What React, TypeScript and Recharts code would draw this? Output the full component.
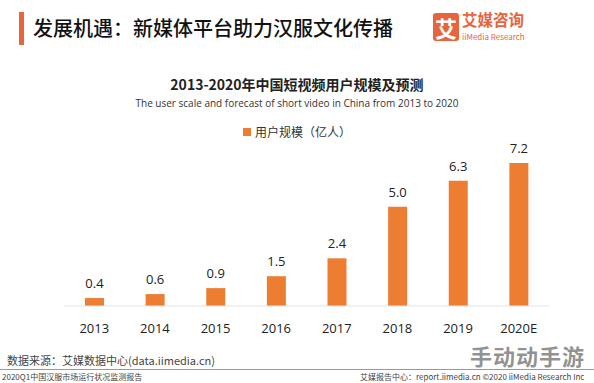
import React from "react";
import { BarChart, Bar, XAxis, YAxis, LabelList } from "recharts";

const years = ["2013", "2014", "2015", "2016", "2017", "2018", "2019", "2020E"];
const users = [0.4, 0.6, 0.9, 1.5, 2.4, 5.0, 6.3, 7.2];

const data = years.map((year, i) => ({ year, users: users[i] }));

const ORANGE = "#ed7d31";
const FONT = "'Noto Sans CJK SC', 'Noto Sans', sans-serif";

export default function App() {
  return (
    <div
      style={{
        position: "absolute",
        left: 0,
        top: 0,
        width: 594,
        height: 383,
        background: "#fff",
        fontFamily: FONT,
        overflow: "hidden",
      }}
    >
      {/* header */}
      <div style={{ position: "absolute", left: 19, top: 12, width: 5, height: 33, background: "#e8643c" }} />
      <div style={{ position: "absolute", left: 33, top: 13, fontSize: 20, fontWeight: 500, color: "#111", whiteSpace: "nowrap" }}>
        发展机遇：新媒体平台助力汉服文化传播
      </div>
      <div
        style={{
          position: "absolute",
          left: 433,
          top: 13,
          width: 26,
          height: 28,
          background: "#e8643c",
          borderRadius: 3,
          color: "#fff",
          fontSize: 22,
          fontWeight: 700,
          lineHeight: "28px",
          textAlign: "center",
        }}
      >
        艾
      </div>
      <div style={{ position: "absolute", left: 462, top: 11, fontSize: 15.5, fontWeight: 700, color: "#e8643c", whiteSpace: "nowrap", lineHeight: "16px" }}>
        艾媒咨询
      </div>
      <div style={{ position: "absolute", left: 462, top: 32, fontSize: 8, color: "#e8643c", whiteSpace: "nowrap", lineHeight: "9px" }}>
        iiMedia Research
      </div>

      {/* chart titles */}
      <div style={{ position: "absolute", left: 0, width: 594, top: 74, textAlign: "center", fontSize: 14, fontWeight: 700, color: "#222" }}>
        2013-2020年中国短视频用户规模及预测
      </div>
      <div style={{ position: "absolute", left: 0, width: 594, top: 96, textAlign: "center", fontSize: 10, color: "#333", fontFamily: "'Open Sans', sans-serif" }}>
        The user scale and forecast of short video in China from 2013 to 2020
      </div>
      <div style={{ position: "absolute", left: 0, width: 594, top: 121, textAlign: "center", fontSize: 12, color: "#333" }}>
        <span style={{ display: "inline-block", width: 8, height: 8, background: ORANGE, marginRight: 4, verticalAlign: "middle" }} />
        <span style={{ verticalAlign: "middle" }}>用户规模（亿人）</span>
      </div>

      <div style={{ position: "absolute", left: 0, top: 0 }}>
        <BarChart width={594} height={383} data={data} margin={{ top: 147, right: 45, bottom: 47, left: 64 }} barSize={19}>
          <XAxis
            dataKey="year"
            height={30}
            axisLine={{ stroke: "#e3e3e3" }}
            tickLine={false}
            tickMargin={12}
            tick={{ fill: "#222", fontSize: 13, fontFamily: "'Open Sans', sans-serif" }}
          />
          <YAxis hide domain={[0, 8]} />
          <Bar dataKey="users" fill={ORANGE} isAnimationActive={false}>
            <LabelList
              dataKey="users"
              position="top"
              offset={10}
              formatter={(v: number) => v.toFixed(1)}
              style={{ fill: "#222", fontSize: 13, fontFamily: "'Open Sans', sans-serif" }}
            />
          </Bar>
        </BarChart>
      </div>

      {/* footer */}
      <div style={{ position: "absolute", left: 7, top: 352, fontSize: 11, color: "#444", whiteSpace: "nowrap" }}>
        数据来源：艾媒数据中心(data.iimedia.cn)
      </div>
      <div style={{ position: "absolute", left: 470, top: 343, fontSize: 22, lineHeight: "24px", fontWeight: 700, color: "rgba(110,110,110,0.75)", whiteSpace: "nowrap", letterSpacing: 1 }}>
        手动动手游
      </div>
      <div style={{ position: "absolute", left: 0, top: 369, width: 594, height: 1, background: "#999" }} />
      <div style={{ position: "absolute", left: 2, top: 372, fontSize: 8, lineHeight: "10px", color: "#444", whiteSpace: "nowrap" }}>
        2020Q1中国汉服市场运行状况监测报告
      </div>
      <div style={{ position: "absolute", left: 360, top: 372, fontSize: 8, lineHeight: "10px", color: "#444", whiteSpace: "nowrap" }}>
        艾媒报告中心：report.iimedia.cn ©2020 iiMedia Research Inc
      </div>
    </div>
  );
}
